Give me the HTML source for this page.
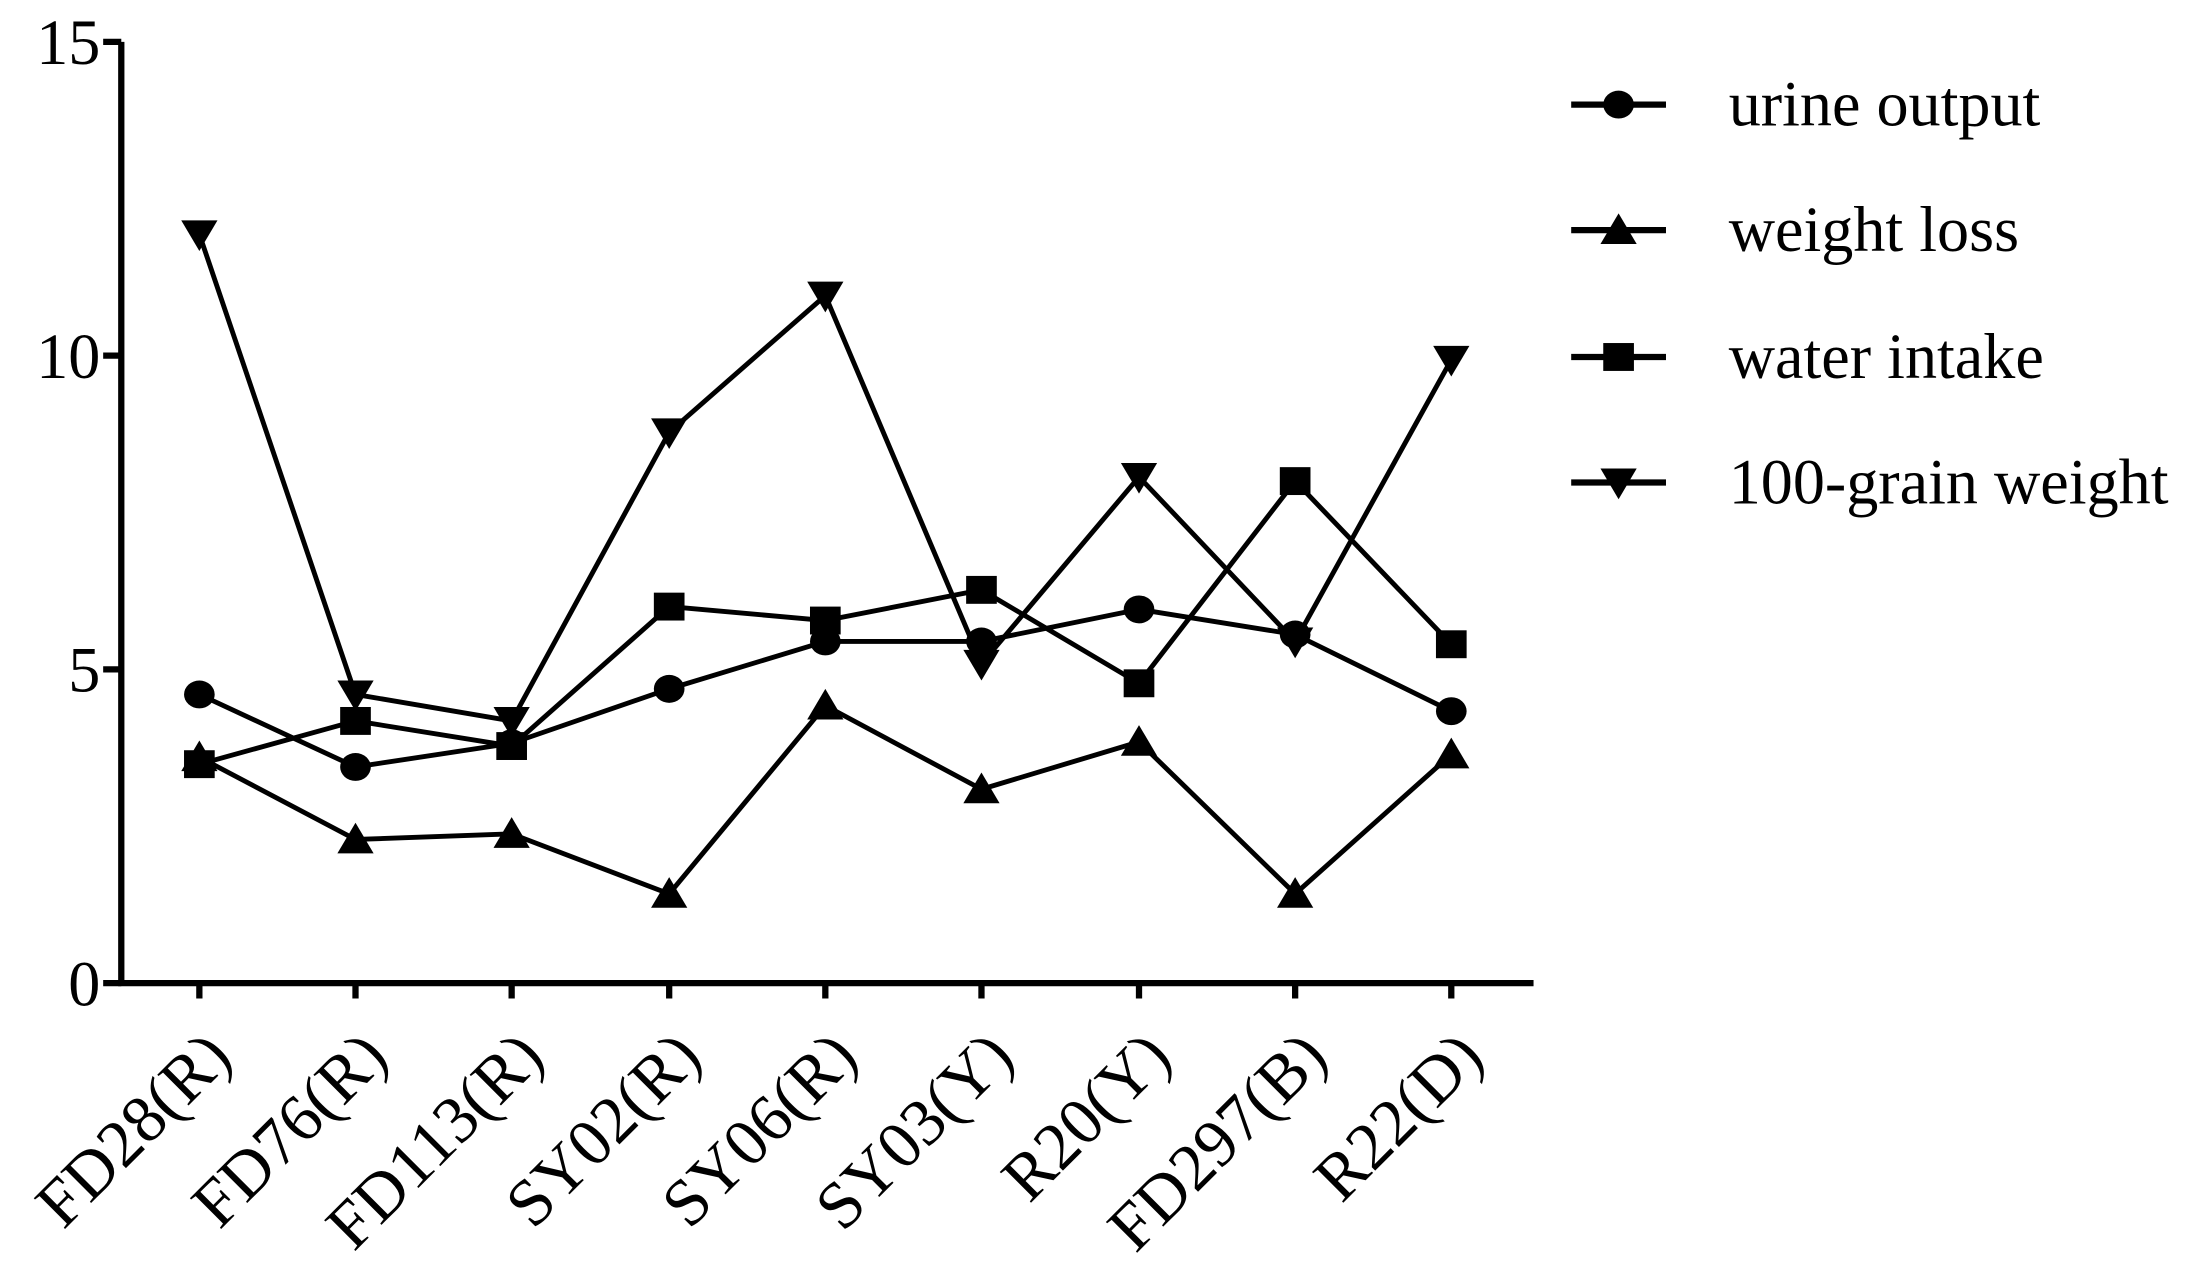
<!DOCTYPE html>
<html><head><meta charset="utf-8"><style>html,body{margin:0;padding:0;background:#fff}svg{display:block}</style></head>
<body>
<svg width="2186" height="1262" viewBox="0 0 1568 905" preserveAspectRatio="none" xmlns="http://www.w3.org/2000/svg" font-family="Liberation Serif, serif" fill="#000">
<defs>
<symbol id="c" overflow="visible"><ellipse cx="0" cy="0" rx="11" ry="10"/></symbol>
<symbol id="t" overflow="visible"><polygon points="0,-12 13,10 -13,10"/></symbol>
<symbol id="s" overflow="visible"><rect x="-11" y="-10" width="22" height="20"/></symbol>
<symbol id="d" overflow="visible"><polygon points="0,12 13,-10 -13,-10"/></symbol>
</defs>
<g stroke="#000" stroke-width="4.5" fill="none">
<path d="M87,30 V705 H1100"/>
<path d="M74,30H87 M74,255H87 M74,480H87 M74,705H87"/>
<path d="M143,705v11 M255,705v11 M367,705v11 M480,705v11 M592,705v11 M704,705v11 M817,705v11 M929,705v11 M1041,705v11"/>
</g>
<g font-size="46" text-anchor="end">
<text x="72" y="46">15</text><text x="72" y="271">10</text><text x="72" y="496">5</text><text x="72" y="721">0</text>
</g>
<g stroke="#000" stroke-width="3.5" fill="none" stroke-linejoin="round">
<polyline points="143,498 255,550 367,533 480,494 592,460 704,460 817,437 929,455 1041,510"/>
<polyline points="143,543 255,602 367,598 480,641 592,506 704,566 817,532 929,641 1041,541"/>
<polyline points="143,548 255,517 367,535 480,435 592,445 704,423 817,490 929,345 1041,462"/>
<polyline points="143,168 255,498 367,517 480,310 592,212 704,476 817,342 929,460 1041,258"/>
</g>
<g>
<use href="#c" x="143" y="498"/><use href="#c" x="255" y="550"/><use href="#c" x="367" y="533"/><use href="#c" x="480" y="494"/><use href="#c" x="592" y="460"/><use href="#c" x="704" y="460"/><use href="#c" x="817" y="437"/><use href="#c" x="929" y="455"/><use href="#c" x="1041" y="510"/>
<use href="#t" x="143" y="543"/><use href="#t" x="255" y="602"/><use href="#t" x="367" y="598"/><use href="#t" x="480" y="641"/><use href="#t" x="592" y="506"/><use href="#t" x="704" y="566"/><use href="#t" x="817" y="532"/><use href="#t" x="929" y="641"/><use href="#t" x="1041" y="541"/>
<use href="#s" x="143" y="548"/><use href="#s" x="255" y="517"/><use href="#s" x="367" y="535"/><use href="#s" x="480" y="435"/><use href="#s" x="592" y="445"/><use href="#s" x="704" y="423"/><use href="#s" x="817" y="490"/><use href="#s" x="929" y="345"/><use href="#s" x="1041" y="462"/>
<use href="#d" x="143" y="168"/><use href="#d" x="255" y="498"/><use href="#d" x="367" y="517"/><use href="#d" x="480" y="310"/><use href="#d" x="592" y="212"/><use href="#d" x="704" y="476"/><use href="#d" x="817" y="342"/><use href="#d" x="929" y="460"/><use href="#d" x="1041" y="258"/>
</g>
<g font-size="48" text-anchor="end">
<text transform="translate(168,760) rotate(-45)">FD28(R)</text>
<text transform="translate(280,760) rotate(-45)">FD76(R)</text>
<text transform="translate(392,760) rotate(-45)">FD113(R)</text>
<text transform="translate(505,760) rotate(-45)">SY02(R)</text>
<text transform="translate(617,760) rotate(-45)">SY06(R)</text>
<text transform="translate(729,760) rotate(-45)">SY03(Y)</text>
<text transform="translate(842,760) rotate(-45)">R20(Y)</text>
<text transform="translate(954,760) rotate(-45)">FD297(B)</text>
<text transform="translate(1066,760) rotate(-45)">R22(D)</text>
</g>
<g stroke="#000" stroke-width="4.5">
<path d="M1127,75H1195 M1127,165H1195 M1127,256H1195 M1127,346H1195"/>
</g>
<use href="#c" x="1161" y="75"/><use href="#t" x="1161" y="165"/><use href="#s" x="1161" y="256"/><use href="#d" x="1161" y="346"/>
<g font-size="46">
<text x="1240" y="90">urine output</text>
<text x="1240" y="180">weight loss</text>
<text x="1240" y="271">water intake</text>
<text x="1240" y="361">100-grain weight</text>
</g>
</svg>
</body></html>
